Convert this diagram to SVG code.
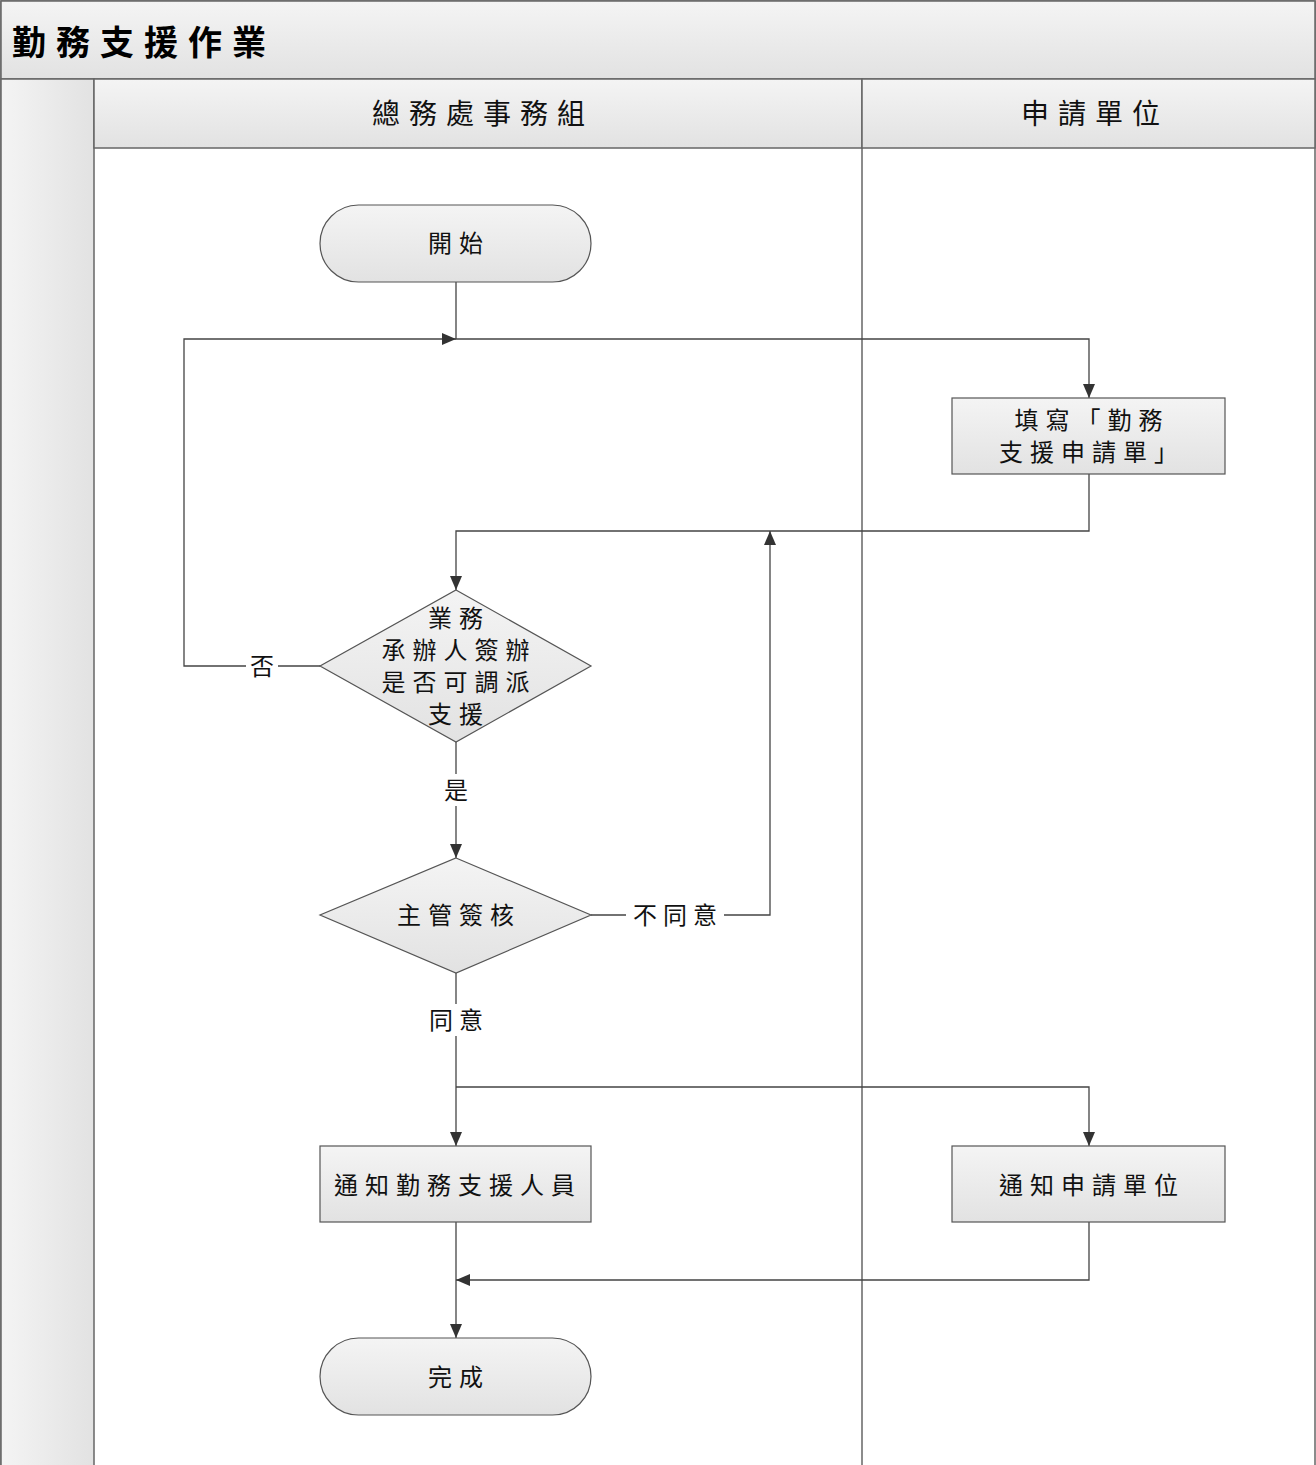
<svg xmlns="http://www.w3.org/2000/svg" width="1316" height="1465" viewBox="0 0 1316 1465">
<defs>
<linearGradient id="gv" x1="0" y1="0" x2="0" y2="1"><stop offset="0" stop-color="#f4f4f4"/><stop offset="1" stop-color="#e2e2e2"/></linearGradient>
<linearGradient id="gh" x1="0" y1="0" x2="1" y2="0"><stop offset="0" stop-color="#f4f4f4"/><stop offset="1" stop-color="#e2e2e2"/></linearGradient>
<marker id="ah" viewBox="0 0 14 12" refX="14" refY="6" markerWidth="14" markerHeight="12" markerUnits="userSpaceOnUse" orient="auto"><path d="M0,0 L14,6 L0,12 Z" fill="#333"/></marker>
<style>
.lane{stroke:#666;stroke-width:1.5;}
.nd{fill:url(#gv);stroke:#555;stroke-width:1.2;}
.t{font-family:"Noto Sans CJK TC","Noto Sans CJK SC",sans-serif;font-size:24px;fill:#111;text-anchor:middle;letter-spacing:7px;}
.h{font-family:"Noto Sans CJK TC","Noto Sans CJK SC",sans-serif;font-size:28px;fill:#111;text-anchor:middle;letter-spacing:9px;}
.c{fill:none;stroke:#444;stroke-width:1.3;}
.lbl{font-family:"Noto Sans CJK TC",sans-serif;font-size:24px;fill:#111;text-anchor:middle;letter-spacing:6px;}
</style>
</defs>
<rect width="1316" height="1465" fill="#fff"/>
<g id="pool">
<rect x="1" y="1" width="1314" height="1470" fill="#fff" class="lane"/>
<rect x="1" y="1" width="1314" height="78" fill="url(#gv)" class="lane"/>
<text x="12" y="55" font-family="Noto Sans CJK TC,sans-serif" font-size="34" font-weight="bold" letter-spacing="10" fill="#000">勤務支援作業</text>
<rect x="1" y="79" width="93" height="1390" fill="url(#gh)" class="lane"/>
<rect x="94" y="79" width="768" height="69" fill="url(#gv)" class="lane"/>
<rect x="862" y="79" width="453" height="69" fill="url(#gv)" class="lane"/>
<line x1="862" y1="148" x2="862" y2="1470" class="lane"/>
<text x="483" y="124" class="h">總務處事務組</text>
<text x="1095" y="124" class="h">申請單位</text>
</g>
<g id="connectors">
<polyline points="456,282 456,339 1089,339 1089,398" class="c" marker-end="url(#ah)"/>
<polyline points="320,666 184,666 184,339 456,339" class="c" marker-end="url(#ah)"/>
<polyline points="1089,474 1089,531 456,531 456,590" class="c" marker-end="url(#ah)"/>
<polyline points="591,915 770,915 770,531" class="c" marker-end="url(#ah)"/>
<polyline points="456,742 456,858" class="c" marker-end="url(#ah)"/>
<polyline points="456,973 456,1146" class="c" marker-end="url(#ah)"/>
<polyline points="456,1087 1089,1087 1089,1146" class="c" marker-end="url(#ah)"/>
<polyline points="456,1222 456,1338" class="c" marker-end="url(#ah)"/>
<polyline points="1089,1222 1089,1280 456,1280" class="c" marker-end="url(#ah)"/>
<rect x="246" y="650" width="32" height="32" fill="#fff"/>
<text x="265" y="675" class="lbl">否</text>
<rect x="440" y="774" width="32" height="32" fill="#fff"/>
<text x="459" y="799" class="lbl">是</text>
<rect x="626" y="899" width="98" height="32" fill="#fff"/>
<text x="678" y="924" class="lbl">不同意</text>
<rect x="424" y="1004" width="64" height="32" fill="#fff"/>
<text x="459" y="1029" class="lbl">同意</text>
</g>
<g id="start">
<rect x="320" y="205" width="271" height="77" rx="38.5" class="nd"/>
<text x="459" y="252" class="t">開始</text>
</g>
<g id="fill-form">
<rect x="952" y="398" width="273" height="76" class="nd"/>
<text x="1092" y="429" class="t">填寫「勤務</text>
<text x="1092" y="461" class="t">支援申請單」</text>
</g>
<g id="decide-assign">
<polygon points="456,590 591,666 456,742 320,666" class="nd"/>
<text x="459" y="627" class="t">業務</text>
<text x="459" y="659" class="t">承辦人簽辦</text>
<text x="459" y="691" class="t">是否可調派</text>
<text x="459" y="723" class="t">支援</text>
</g>
<g id="supervisor">
<polygon points="456,858 591,915 456,973 320,915" class="nd"/>
<text x="459" y="924" class="t">主管簽核</text>
</g>
<g id="notify-staff">
<rect x="320" y="1146" width="271" height="76" class="nd"/>
<text x="458" y="1194" class="t">通知勤務支援人員</text>
</g>
<g id="notify-unit">
<rect x="952" y="1146" width="273" height="76" class="nd"/>
<text x="1092" y="1194" class="t">通知申請單位</text>
</g>
<g id="end">
<rect x="320" y="1338" width="271" height="77" rx="38.5" class="nd"/>
<text x="459" y="1386" class="t">完成</text>
</g>
</svg>
